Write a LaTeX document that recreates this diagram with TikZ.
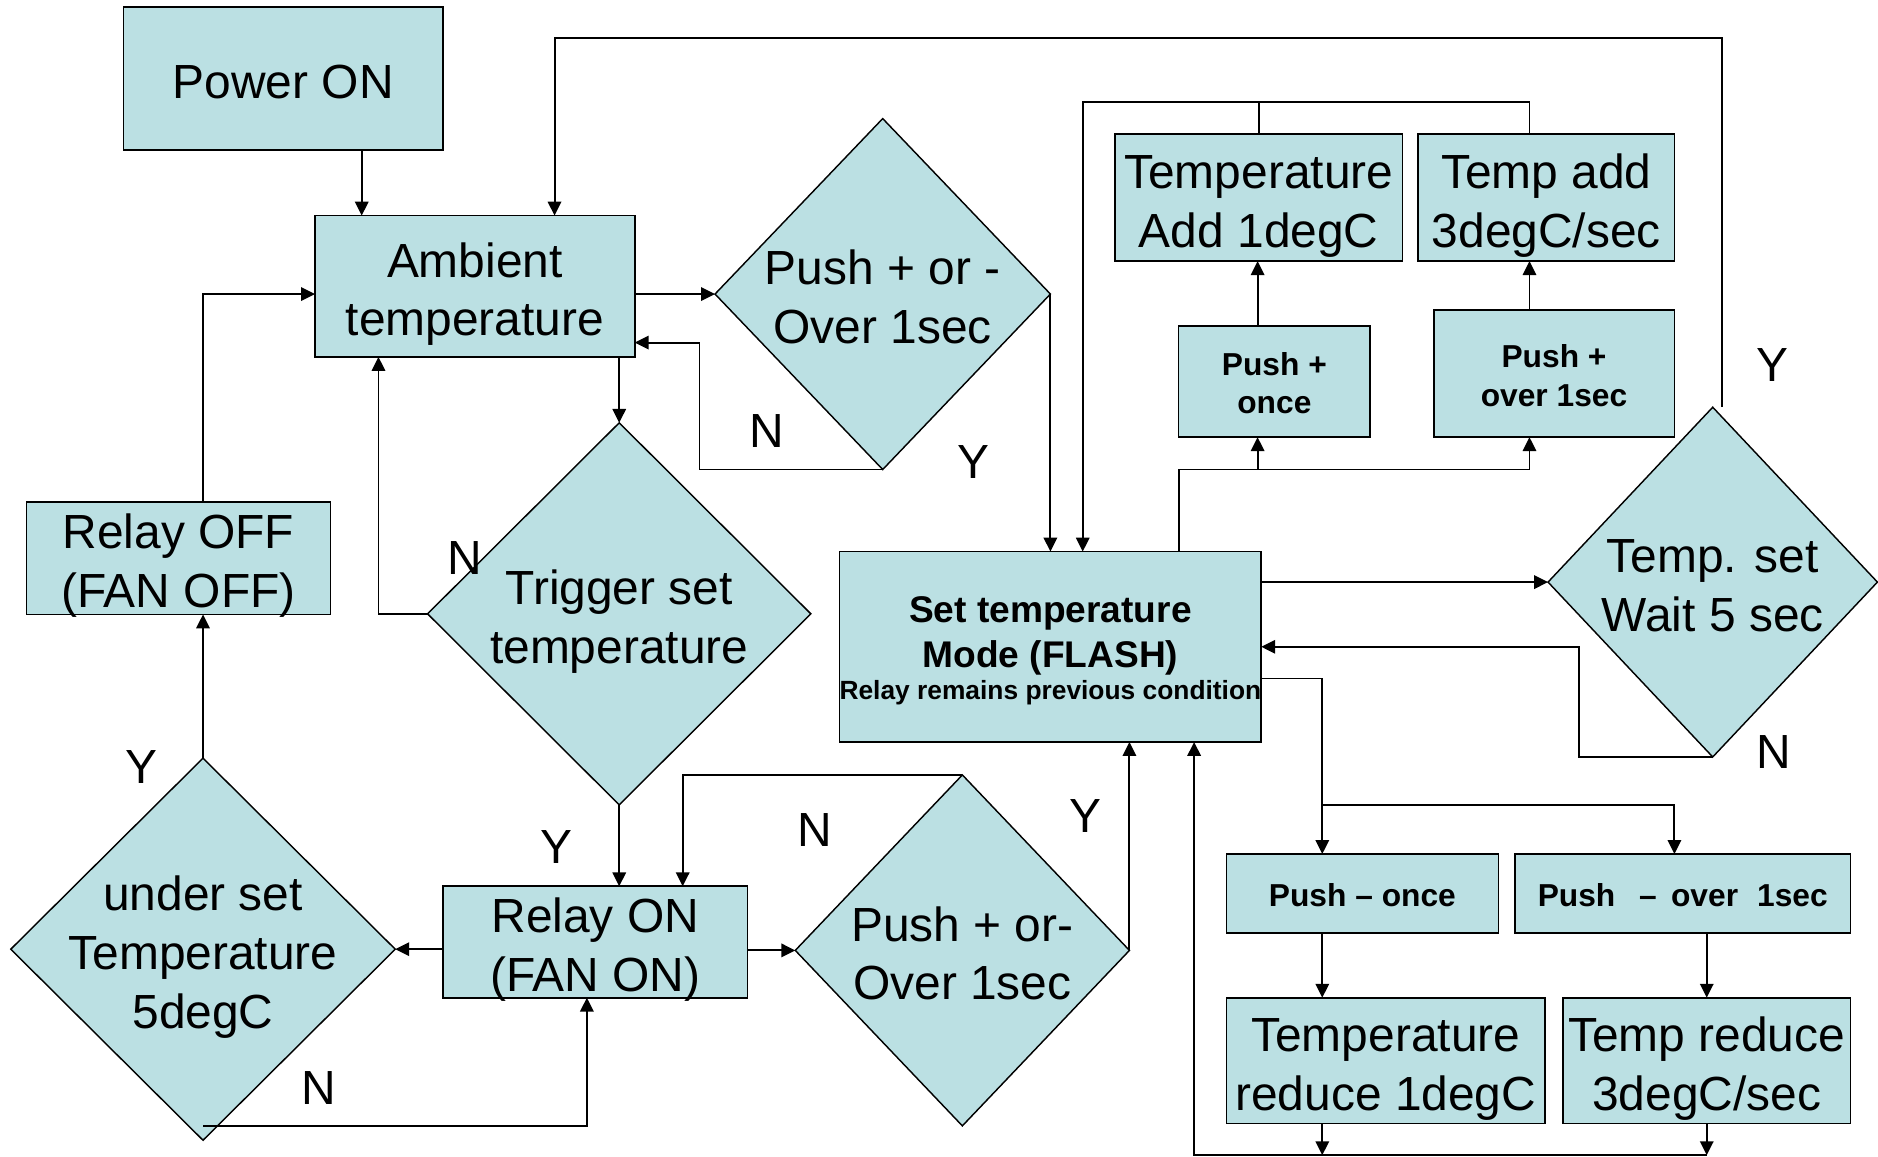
\documentclass[tikz,border=0pt]{standalone}
\usepackage{fontspec}
\setmainfont{Liberation Sans}
\usetikzlibrary{shapes.geometric,arrows.meta,calc}
\definecolor{boxfill}{RGB}{187,224,227}
\newcommand{\mytop}{\rule{0pt}{1.05em}}
\newcommand{\mybot}{\rule[-0.21em]{0pt}{0.21em}}
\begin{document}
\begin{tikzpicture}[x=0.5pt,y=-0.5pt,
  big/.style={font=\fontsize{20}{24.5}\selectfont},
  small/.style={font=\bfseries\fontsize{13.25}{16}\selectfont},
  box/.style={draw, line width=0.7pt, fill=boxfill, inner sep=0pt, outer sep=0pt, align=center, big},
  tight/.style={inner ysep=-2pt},
  dia/.style={diamond, draw, line width=0.6pt, fill=boxfill, inner sep=0pt, outer sep=0pt},
  dlab/.style={align=center, inner sep=0pt, big},
  yn/.style={inner sep=0pt, big},
  arr/.style={line width=0.8pt, -{Triangle[length=5.8pt,width=5.6pt]}},
  conn/.style={line width=0.8pt}]
\fill[white] (0,0) rectangle (1568,966);
\useasboundingbox (0,0) rectangle (1568,966);

% boxes
\node[box, minimum width=133.5pt, minimum height=59.5pt] (power) at (236.5,65.5) {\mytop Power ON\mybot};
\node[box, minimum width=133.5pt, minimum height=59pt] (amb) at (396.5,239) {\mytop Ambient\\temperature\mybot};
\node[box, minimum width=174pt, minimum height=79.5pt, font=\bfseries\fontsize{15.5}{18.5}\selectfont] (setm) at (877,540)
  {\rule{0pt}{0.92em}Set temperature\\Mode (FLASH)\\[-5pt]{\fontsize{11}{13}\selectfont Relay remains previous condition\mybot}};
\node[box, minimum width=120pt, minimum height=53pt] (add1) at (1051,165) {\mytop Temperature\\Add 1degC\mybot};
\node[box, minimum width=107pt, minimum height=53pt] (add3) at (1291,165) {\mytop Temp add\\3degC/sec\mybot};
\node[box, small, minimum width=80pt, minimum height=46.5pt] (po1) at (1064,318.5) {\mytop Push +\\once\mybot};
\node[box, small, minimum width=100.5pt, minimum height=53pt] (po2) at (1297.5,312) {\mytop Push +\\over 1sec\mybot};
\node[box, small, minimum width=113.5pt, minimum height=33pt] (pm1) at (1137.5,746) {\mytop Push – once\mybot};
\node[box, small, minimum width=140pt, minimum height=33pt] (pm2) at (1405,746) {\mytop Push\hspace{0.75em}–\hspace{0.45em}over\hspace{0.6em}1sec\mybot};
\node[box, minimum width=133pt, minimum height=52.5pt] (red1) at (1157,885.5) {\mytop Temperature\\reduce 1degC\mybot};
\node[box, minimum width=120pt, minimum height=52.5pt] (red3) at (1425,885.5) {\mytop Temp reduce\\3degC/sec\mybot};
\node[box, tight, minimum width=127pt, minimum height=46.5pt] (ron) at (497,786.5) {\mytop Relay ON\\(FAN ON)\mybot};
\node[box, tight, minimum width=127pt, minimum height=47pt] (roff) at (149,466) {\mytop Relay OFF\\(FAN OFF)\mybot};

% decisions
\node[dia, minimum width=140pt, minimum height=146.5pt, label={[dlab]center:{\mytop Push + or -\\Over 1sec\mybot}}] (pd1) at (737,245.5) {};
\node[dia, minimum width=160pt, minimum height=159.5pt, label={[dlab]center:{\mytop Trigger set\\temperature\mybot}}] (trig) at (517,512.5) {};
\node[dia, minimum width=137.5pt, minimum height=146pt, label={[dlab]center:{\mytop Temp. set\\Wait 5 sec\mybot}}] (tset) at (1430,486) {};
\node[dia, minimum width=139.5pt, minimum height=146.5pt, label={[dlab]center:{\mytop Push + or-\\Over 1sec\mybot}}] (pd2) at (803.5,793.5) {};
\node[dia, minimum width=160.5pt, minimum height=159.5pt, label={[dlab]center:{\mytop under set\\Temperature\\5degC\mybot}}] (under) at (169.5,792.5) {};

% connectors
\draw[arr] ($(power.south)+(65.5,0)$) -- ($(amb.north)+(-94.5,0)$);
\draw[arr] ($(tset.north)+(8,0)$) -- ++(0,-308) -| ($(amb.north)+(66.5,0)$);
\draw[arr] (amb.east |- pd1.west) -- (pd1.west);
\draw[arr] (pd1.south) -| ($(amb.east)+(54,47)$) -- ($(amb.east)+(0,47)$);
\draw[arr] (pd1.east) -- (pd1.east |- setm.north);
\draw[conn] (add1.north) -- ++(0,-27);
\draw[arr] ($(add3.north)+(-14,0)$) -- ++(0,-27) -| ($(setm.north)+(27,0)$);
\draw[arr] ($(setm.north)+(107,0)$) |- ($(po2.south)+(-20.5,27)$) -- ($(po2.south)+(-20.5,0)$);
\draw[arr] ($(po1.south)+(-14,27)$) -- ($(po1.south)+(-14,0)$);
\draw[arr] ($(po1.north)+(-14,0)$) -- ($(add1.south)+(-1,0)$);
\draw[arr] ($(po2.north)+(-20.5,0)$) -- ($(add3.south)+(-14,0)$);
\draw[arr] (setm.east |- tset.west) -- (tset.west);
\draw[arr] (tset.south) -- ++(-112,0) |- (setm.east);
\draw[arr] ($(setm.east)+(0,26.5)$) -| ($(pm1.north)+(-33.5,0)$);
\draw[arr] ($(pm1.north)+(-33.5,-41)$) -| ($(pm2.north)+(-7,0)$);
\draw[arr] ($(pm1.south)+(-33.5,0)$) -- ($(red1.north)+(-53,0)$);
\draw[arr] (red3.north |- pm2.south) -- (red3.north);
\draw[arr] ($(red1.south)+(-53,0)$) -- ++(0,26.5);
\draw[arr] (red3.south) -- ++(0,26.5);
\draw[arr] ($(red3.south)+(0,26.5)$) -| ($(setm.south)+(120,0)$);
\draw[arr] (pd2.east) -- (pd2.east |- setm.south);
\draw[arr] (amb.south -| trig.north) -- (trig.north);
\draw[arr] (trig.west) -| ($(amb.south)+(-80.5,0)$);
\draw[arr] (trig.south) -- (trig.south |- ron.north);
\draw[arr] (pd2.north) -| ($(ron.north)+(73,0)$);
\draw[arr] (ron.east |- pd2.west) -- (pd2.west);
\draw[arr] (ron.west |- under.east) -- (under.east);
\draw[arr] (under.north) -- (under.north |- roff.south);
\draw[arr] ($(under.south)+(0,-12)$) -| ($(ron.south)+(-7,0)$);
\draw[arr] (under.north |- roff.north) |- (amb.west |- pd1.west);

% Y / N labels
\node[yn] (n1) at (640,360) {N};
\node[yn] (y1) at (813,386) {Y};
\node[yn] (n2) at (388,466) {N};
\node[yn] (y2) at (465,707) {Y};
\node[yn] (y3) at (118,640) {Y};
\node[yn] (n3) at (266,908) {N};
\node[yn] (n4) at (680,693) {N};
\node[yn] (y4) at (906,681) {Y};
\node[yn] (y5) at (1480,305) {Y};
\node[yn] (n5) at (1481,628) {N};
\end{tikzpicture}
\end{document}
